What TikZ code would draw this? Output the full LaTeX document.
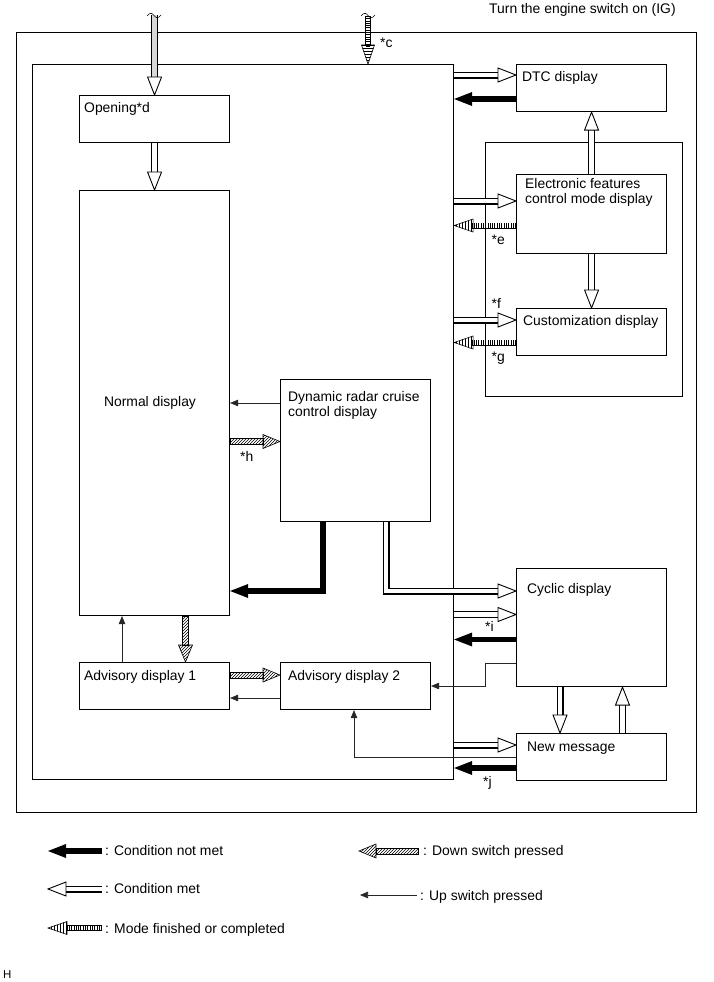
\documentclass[tikz,border=0pt]{standalone}
\usepackage{fontspec}
\setmainfont{Liberation Sans}
\usepackage{tikz}
\usetikzlibrary{patterns,arrows.meta}

\tikzset{
  every node/.style={font=\fontsize{13.9}{15}\selectfont},
  box/.style={draw, line width=1.1pt, anchor=north west, inner sep=0pt},
  txt/.style={anchor=north west, inner sep=0pt, align=left},
  key/.style={anchor=base west, inner sep=0pt},
  metline/.style={double=white, double distance=4.8pt, line width=1.1pt},
  notline/.style={line width=5.5pt},
  modeline/.style={line width=4.6pt, dash pattern=on .9pt off 1.4pt,
    preaction={draw, solid, double=white, double distance=4.6pt, line width=.7pt}},
  hatch/.style={draw, line width=.6pt, pattern=north east lines},
  upsw/.style={line width=.6pt, black!85, -{Triangle[length=8pt,width=6.5pt]}},
  metend/.pic={\filldraw[fill=white, line width=.9pt] (0,0) -- (-18,7) -- (-18,-7) -- cycle;},
  notend/.pic={\fill (0,0) -- (-18,7) -- (-18,-7) -- cycle;},
  downend/.pic={\filldraw[line width=.6pt, pattern=north east lines] (0,0) -- (-17,7) -- (-17,-7) -- cycle;},
  modeend/.pic={\filldraw[line width=.6pt, pattern=#1] (0,0) -- (-19,6.5) -- (-19,-6.5) -- cycle;}
}

\begin{document}
\begin{tikzpicture}[x=1pt, y=-1pt]
\useasboundingbox (0,0) rectangle (713,982);

\node[box, minimum width=680pt, minimum height=780pt] (outer) at (16,32) {};
\node[box, minimum width=421pt, minimum height=715pt] (inner) at (32,64) {};
\node[box, minimum width=197pt, minimum height=254pt] (group) at (485,142) {};
\node[box, minimum width=150pt, minimum height=47pt] (dtc) at (516,64) {};
\node[box, minimum width=150pt, minimum height=47pt] (opening) at (79,95) {};
\node[box, minimum width=150pt, minimum height=425pt] (normal) at (79,190) {};
\node[box, minimum width=150pt, minimum height=79pt] (elec) at (516,174) {};
\node[box, minimum width=150pt, minimum height=47pt] (custom) at (516,308) {};
\node[box, minimum width=150pt, minimum height=142pt] (radar) at (280,379) {};
\node[box, minimum width=150pt, minimum height=118pt] (cyclic) at (516,568) {};
\node[box, minimum width=150pt, minimum height=47pt] (newmsg) at (516,733) {};
\node[box, minimum width=150pt, minimum height=47pt] (adv1) at (79,662) {};
\node[box, minimum width=150pt, minimum height=47pt] (adv2) at (280,662) {};

\node[key] (title) at (489,13.5) {Turn the engine switch on (IG)};
\node[txt] (dtc-t) at (522,71) {DTC display};
\node[txt] (opening-t) at (84,102) {Opening*d};
\node[anchor=north, inner sep=0pt] (normal-t) at (150,396.5) {Normal display};
\node[txt] (elec-t) at (525,178) {Electronic features\\control mode display};
\node[txt] (custom-t) at (523,315) {Customization display};
\node[txt] (radar-t) at (288,391) {Dynamic radar cruise\\control display};
\node[txt] (cyclic-t) at (527,583) {Cyclic display};
\node[txt] (newmsg-t) at (527,742) {New message};
\node[txt] (adv1-t) at (84,670) {Advisory display 1};
\node[txt] (adv2-t) at (288,670) {Advisory display 2};

\node[txt] (c-t) at (380,38) {*c};
\node[txt] (e-t) at (491.5,235) {*e};
\node[txt] (f-t) at (491.5,298) {*f};
\node[txt] (g-t) at (491.5,351.5) {*g};
\node[txt] (h-t) at (240,451) {*h};
\node[txt] (i-t) at (485,621) {*i};
\node[txt] (j-t) at (483,776.5) {*j};

\draw[metline, double=black!15, shorten >=17pt] (opening.north |- 0,15) -- (opening.north);
\pic[rotate=-90] at (opening.north) {metend};
\draw[line width=.6pt] (147,16) .. controls (150,12) and (152,13) .. (154,15.5) .. controls (156,18) and (158,19) .. (161,15);
\draw[modeline] (368,16) -- (368,46);
\pic[rotate=-90] at (inner.north -| 368,0) {modeend=horizontal lines};
\draw[line width=.6pt] (361,16) .. controls (364,12) and (366,13) .. (368,15.5) .. controls (370,18) and (372,19) .. (375,15);

\draw[metline, shorten >=17pt] (opening.south) -- (normal.north);
\pic[rotate=-90] at (normal.north) {metend};

\draw[metline, shorten >=17pt] (inner.east |- 0,75) -- (dtc.west |- 0,75);
\pic at (dtc.west |- 0,75) {metend};
\draw[notline, shorten >=17pt] (dtc.west |- 0,99) -- (inner.east |- 0,99);
\pic[rotate=180] at (inner.east |- 0,99) {notend};
\draw[metline, shorten >=17pt] (elec.north) -- (dtc.south);
\pic[rotate=90] at (dtc.south) {metend};

\draw[metline, shorten >=17pt] (inner.east |- 0,201) -- (elec.west |- 0,201);
\pic at (elec.west |- 0,201) {metend};
\draw[modeline] (elec.west |- 0,225.5) -- (472,225.5);
\pic[rotate=180] at (inner.east |- 0,225.5) {modeend=vertical lines};
\draw[metline, shorten >=17pt] (elec.south) -- (custom.north);
\pic[rotate=-90] at (custom.north) {metend};
\draw[metline, shorten >=17pt] (inner.east |- 0,320) -- (custom.west |- 0,320);
\pic at (custom.west |- 0,320) {metend};
\draw[modeline] (custom.west |- 0,342.5) -- (472,342.5);
\pic[rotate=180] at (inner.east |- 0,342.5) {modeend=vertical lines};

\draw[upsw] (radar.west |- 0,403) -- (normal.east |- 0,403);
\draw[hatch] (normal.east |- 0,438.5) rectangle (263,444.5);
\pic at (radar.west |- 0,441.5) {downend};
\draw[notline, shorten >=17pt] (radar.south -| 323,0) |- (normal.east |- 0,591);
\pic[rotate=180] at (normal.east |- 0,591) {notend};
\draw[metline, shorten >=17pt] (radar.south -| 386,0) |- (cyclic.west |- 0,591);
\pic at (cyclic.west |- 0,591) {metend};

\draw[metline, shorten >=17pt] (inner.east |- 0,614.5) -- (cyclic.west |- 0,614.5);
\pic at (cyclic.west |- 0,614.5) {metend};
\draw[notline, shorten >=17pt] (cyclic.west |- 0,639.5) -- (inner.east |- 0,639.5);
\pic[rotate=180] at (inner.east |- 0,639.5) {notend};
\draw[upsw] (cyclic.west |- 0,663) -- (485,663) |- (adv2.east |- 0,686);
\draw[metline, shorten >=17pt] (cyclic.south -| 560,0) -- (newmsg.north -| 560,0);
\pic[rotate=-90] at (newmsg.north -| 560,0) {metend};
\draw[metline, shorten >=17pt] (newmsg.north -| 622.5,0) -- (cyclic.south -| 622.5,0);
\pic[rotate=90] at (cyclic.south -| 622.5,0) {metend};

\draw[metline, shorten >=17pt] (inner.east |- 0,745) -- (newmsg.west |- 0,745);
\pic at (newmsg.west |- 0,745) {metend};
\draw[upsw] (newmsg.west |- 0,757) -| (adv2.south -| 354,0);
\draw[notline, shorten >=17pt] (newmsg.west |- 0,768) -- (inner.east |- 0,768);
\pic[rotate=180] at (inner.east |- 0,768) {notend};

\draw[upsw] (adv1.north -| 122,0) -- (normal.south -| 122,0);
\draw[hatch] (normal.south -| 182.5,0) rectangle (188.5,645);
\pic[rotate=-90] at (adv1.north -| 185.5,0) {downend};
\draw[hatch] (adv1.east |- 0,672) rectangle (263,678);
\pic at (adv2.west |- 0,675) {downend};
\draw[upsw] (adv2.west |- 0,698) -- (adv1.east |- 0,698);

\node[key] (k-not) at (105,855) {: Condition not met};
\node[key] (k-met) at (105,893) {: Condition met};
\node[key] (k-mode) at (105,933) {: Mode finished or completed};
\node[key] (k-down) at (423,855) {: Down switch pressed};
\node[key] (k-up) at (420,900) {: Up switch pressed};
\node[key, font=\fontsize{11.5}{13}\selectfont] (h-t) at (3,978.5) {H};

\draw[notline, shorten >=17pt] (102,851) -- (48,851);
\pic[rotate=180] at (48,851) {notend};
\draw[metline, shorten >=17pt] (102,889) -- (48,889);
\pic[rotate=180] at (48,889) {metend};
\draw[modeline] (102,928) -- (67,928);
\pic[rotate=180] at (48,928) {modeend=vertical lines};
\draw[hatch] (376,848) rectangle (418,854);
\pic[rotate=180] at (359,851) {downend};
\draw[upsw] (417,895) -- (360,895);
\end{tikzpicture}
\end{document}
